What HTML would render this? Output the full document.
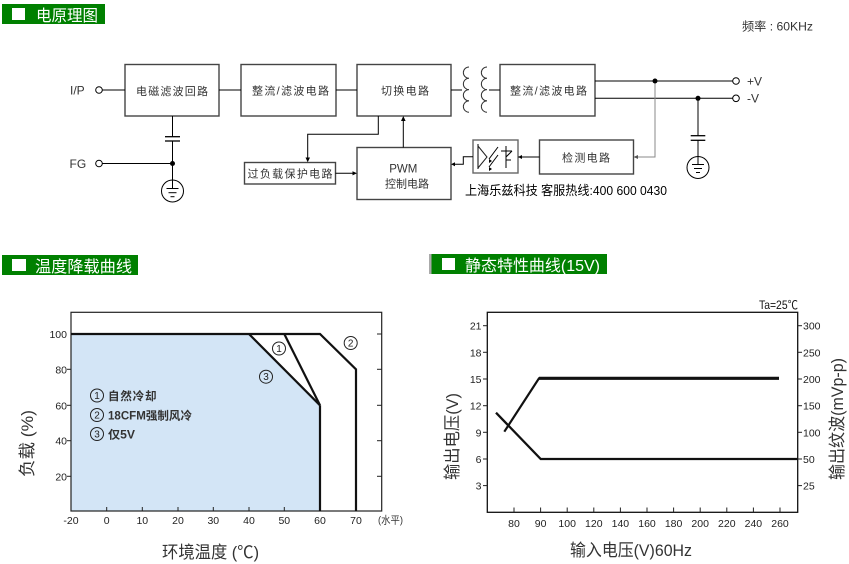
<!DOCTYPE html>
<html><head><meta charset="utf-8"><style>
html,body{margin:0;padding:0;background:#fff;}
svg{display:block;}
text{font-family:"Liberation Sans","Noto Sans CJK SC",sans-serif;}
.cn{font-family:"Liberation Sans","Noto Sans CJK SC",sans-serif;fill:#333;}
.tk{font-size:10.5px;fill:#222;}
</style></head><body>
<svg width="849" height="564" viewBox="0 0 849 564" xmlns="http://www.w3.org/2000/svg">
<!-- Header 1 -->
<rect x="2" y="4" width="103" height="20" fill="#008000"/>
<rect x="12" y="8" width="13" height="12" fill="#fff"/>
<text x="36" y="21" font-size="16" fill="#fff" textLength="62" lengthAdjust="spacingAndGlyphs">电原理图</text>

<!-- Block diagram -->
<g stroke="#000" stroke-width="1" fill="none">
  <!-- boxes -->
  <rect x="125" y="64.5" width="94" height="51.5" stroke="#444" stroke-width="1.4"/>
  <rect x="241" y="64.5" width="95" height="51.5" stroke="#444" stroke-width="1.4"/>
  <rect x="357" y="64.5" width="94" height="51.5" stroke="#444" stroke-width="1.4"/>
  <rect x="500" y="64.5" width="95" height="51.5" stroke="#444" stroke-width="1.4"/>
  <rect x="244.5" y="162.5" width="91" height="21.5" stroke="#444" stroke-width="1.4"/>
  <rect x="357" y="147.5" width="94" height="52" stroke="#444" stroke-width="1.4"/>
  <rect x="539.5" y="140" width="94" height="34" stroke="#444" stroke-width="1.4"/>
  <rect x="473" y="140" width="45" height="33" stroke="#666" stroke-width="1.4"/>
  <!-- I/P and FG -->
  <circle cx="99" cy="90" r="3.3"/>
  <line x1="102.3" y1="90" x2="125" y2="90"/>
  <circle cx="99" cy="163.5" r="3.3"/>
  <line x1="102.3" y1="163.5" x2="172.5" y2="163.5"/>
  <line x1="172.5" y1="116" x2="172.5" y2="136.7"/>
  <line x1="165" y1="136.7" x2="180" y2="136.7" stroke-width="1.3"/>
  <line x1="165" y1="141" x2="180" y2="141" stroke-width="1.3"/>
  <line x1="172.5" y1="141" x2="172.5" y2="188.5"/>
  <circle cx="172.5" cy="191" r="11"/>
  <line x1="166.5" y1="188.5" x2="178.5" y2="188.5"/>
  <line x1="168.5" y1="192.7" x2="176.5" y2="192.7"/>
  <line x1="170.5" y1="196.7" x2="174.5" y2="196.7"/>
  <!-- main chain -->
  <line x1="219" y1="90" x2="241" y2="90"/>
  <line x1="336" y1="90" x2="357" y2="90"/>
  <line x1="451" y1="90" x2="462" y2="90"/>
  <line x1="489" y1="90" x2="500" y2="90"/>
  <!-- transformer coils -->
  <path d="M469 67 A5.6 5.6 0 1 0 469 78.3 M469 78.3 A5.6 5.6 0 1 0 469 89.6 M469 89.6 A5.6 5.6 0 1 0 469 100.9 M469 100.9 A5.6 5.6 0 1 0 469 112.2" stroke="#333"/>
  <path d="M487 67 A5.6 5.6 0 1 0 487 78.3 M487 78.3 A5.6 5.6 0 1 0 487 89.6 M487 89.6 A5.6 5.6 0 1 0 487 100.9 M487 100.9 A5.6 5.6 0 1 0 487 112.2" stroke="#333"/>
  <!-- outputs -->
  <line x1="595" y1="81" x2="732.7" y2="81"/>
  <line x1="595" y1="98.3" x2="732.7" y2="98.3"/>
  <circle cx="736" cy="81" r="3.3"/>
  <circle cx="736" cy="98.3" r="3.3"/>
  <line x1="698" y1="98.3" x2="698" y2="135.7"/>
  <line x1="690.7" y1="135.7" x2="705.3" y2="135.7" stroke-width="1.3"/>
  <line x1="690.7" y1="140.3" x2="705.3" y2="140.3" stroke-width="1.3"/>
  <line x1="698" y1="140.3" x2="698" y2="164"/>
  <circle cx="698" cy="167.5" r="11"/>
  <line x1="692" y1="164.5" x2="704" y2="164.5"/>
  <line x1="694" y1="168.5" x2="702" y2="168.5"/>
  <line x1="696" y1="172.5" x2="700" y2="172.5"/>
  <!-- feedback gray -->
  <polyline points="655,81 655,157 636,157" stroke="#888"/>
  <!-- detect to opto -->
  <line x1="518" y1="157" x2="539.5" y2="157"/>
  <!-- opto to PWM -->
  <polyline points="473,156.7 463.3,156.7 463.3,164.3 454,164.3"/>
  <!-- PWM up to switch -->
  <line x1="403.3" y1="147.5" x2="403.3" y2="120"/>
  <!-- switch down to overload -->
  <polyline points="378.3,116 378.3,134.3 307.7,134.3 307.7,158"/>
  <!-- overload to PWM -->
  <line x1="335.5" y1="173.3" x2="353" y2="173.3"/>
  <!-- opto internals -->
  <line x1="478" y1="144" x2="478" y2="169"/>
  <polyline points="478,146 487,157 478,168" stroke="#222"/>
  <line x1="498" y1="147" x2="489" y2="159"/>
  <line x1="498" y1="155" x2="489" y2="167"/>
  <line x1="506" y1="146" x2="506" y2="168"/>
  <line x1="501" y1="151" x2="512" y2="151"/>
  <line x1="506" y1="157" x2="512" y2="151"/>
  <line x1="506" y1="160" x2="511" y2="160"/>
</g>
<g fill="#000">
  <circle cx="172.5" cy="163.5" r="2.5"/>
  <circle cx="655" cy="81" r="2.5"/>
  <circle cx="698" cy="98.3" r="2.5"/>
  <polygon points="633.5,157 638,155 638,159" fill="#555"/>
  <polygon points="518,157 522,155 522,159"/>
  <polygon points="451,164.3 455,162.3 455,166.3"/>
  <polygon points="403.3,116 401,121 405.6,121"/>
  <polygon points="307.7,162.3 305.5,157.5 310,157.5"/>
  <polygon points="357,173.3 352.5,171.2 352.5,175.4"/>
  <polygon points="489,159 489,163 492,161"/>
  <polygon points="489,167 489,171 492,169"/>
</g>
<!-- block labels -->
<g class="cn" font-size="11">
  <text x="136" y="95" textLength="72" lengthAdjust="spacing">电磁滤波回路</text>
  <text x="252" y="94.5" textLength="77" lengthAdjust="spacing">整流/滤波电路</text>
  <text x="381" y="94.5" textLength="48" lengthAdjust="spacing">切换电路</text>
  <text x="510" y="94.5" textLength="77" lengthAdjust="spacing">整流/滤波电路</text>
  <text x="247.5" y="177.5" textLength="85" lengthAdjust="spacing">过负载保护电路</text>
  <text x="562" y="161.5" textLength="48" lengthAdjust="spacing">检测电路</text>
  <text x="385" y="187.5" textLength="44" lengthAdjust="spacing">控制电路</text>
</g>
<text x="403.3" y="172.5" font-size="11.5" fill="#333" text-anchor="middle">PWM</text>
<g font-size="12" fill="#333">
  <text x="70" y="94.5">I/P</text>
  <text x="69.5" y="168">FG</text>
  <text x="747" y="85.5">+V</text>
  <text x="747" y="102.5">-V</text>
  <text x="742" y="30.5" textLength="71" lengthAdjust="spacingAndGlyphs">频率 : 60KHz</text>
</g>
<text x="465" y="195" font-size="13" fill="#000" textLength="202" lengthAdjust="spacingAndGlyphs">上海乐兹科技 客服热线:400 600 0430</text>

<!-- Header 2 -->
<rect x="2" y="255" width="136" height="20" fill="#008000"/>
<rect x="12" y="259" width="14" height="12" fill="#fff"/>
<text x="35" y="272" font-size="16" fill="#fff" textLength="97" lengthAdjust="spacingAndGlyphs">温度降载曲线</text>

<!-- Header 3 -->
<rect x="429" y="254" width="178" height="20" fill="#008000"/>
<rect x="429" y="254" width="2.5" height="20" fill="#aaa"/>
<rect x="442" y="258" width="13" height="12" fill="#fff"/>
<text x="465" y="271" font-size="16" fill="#fff" textLength="135" lengthAdjust="spacingAndGlyphs">静态特性曲线(15V)</text>

<!-- Left chart -->
<polygon points="71,334 249,334 320,405.3 320,511 71,511" fill="#d3e5f6"/>
<rect x="71" y="312.3" width="310.7" height="198.7" fill="none" stroke="#222" stroke-width="1.2"/>
<g stroke="#111" stroke-width="2.2" fill="none" stroke-linejoin="miter">
  <polyline points="71,334 320,334 356,369.3 356,511"/>
  <line x1="249" y1="334" x2="320" y2="405.3"/>
  <line x1="284.3" y1="334" x2="320" y2="405.3"/>
  <line x1="320" y1="405.3" x2="320" y2="511"/>
</g>
<g stroke="#222" stroke-width="1">
  <line x1="106.7" y1="507" x2="106.7" y2="511"/>
  <line x1="142.3" y1="507" x2="142.3" y2="511"/>
  <line x1="178" y1="507" x2="178" y2="511"/>
  <line x1="213.3" y1="507" x2="213.3" y2="511"/>
  <line x1="249" y1="507" x2="249" y2="511"/>
  <line x1="284.3" y1="507" x2="284.3" y2="511"/>
  <line x1="377" y1="334" x2="381.7" y2="334"/>
  <line x1="377" y1="369.3" x2="381.7" y2="369.3"/>
  <line x1="377" y1="405.3" x2="381.7" y2="405.3"/>
  <line x1="377" y1="440.7" x2="381.7" y2="440.7"/>
  <line x1="377" y1="476.3" x2="381.7" y2="476.3"/>
  <line x1="67" y1="369.3" x2="71" y2="369.3"/>
  <line x1="67" y1="405.3" x2="71" y2="405.3"/>
  <line x1="67" y1="440.7" x2="71" y2="440.7"/>
  <line x1="67" y1="476.3" x2="71" y2="476.3"/>
</g>
<g class="tk" text-anchor="end">
  <text x="67" y="338">100</text>
  <text x="67" y="373.3">80</text>
  <text x="67" y="409.3">60</text>
  <text x="67" y="444.7">40</text>
  <text x="67" y="480.3">20</text>
</g>
<g class="tk" text-anchor="middle">
  <text x="71" y="524">-20</text>
  <text x="106.7" y="524">0</text>
  <text x="142.3" y="524">10</text>
  <text x="178" y="524">20</text>
  <text x="213.3" y="524">30</text>
  <text x="249" y="524">40</text>
  <text x="284.3" y="524">50</text>
  <text x="320" y="524">60</text>
  <text x="356" y="524">70</text>
</g>
<text x="378" y="523.5" font-size="10.5" fill="#333" textLength="25" lengthAdjust="spacingAndGlyphs">(水平)</text>
<!-- circled labels in chart -->
<g fill="none" stroke="#222" stroke-width="1">
  <circle cx="279" cy="348.5" r="6.5"/>
  <circle cx="350.7" cy="343" r="6.5"/>
  <circle cx="266" cy="376.7" r="6.5"/>
  <circle cx="97" cy="395.5" r="6.5"/>
  <circle cx="97" cy="415" r="6.5"/>
  <circle cx="97" cy="434" r="6.5"/>
</g>
<g font-size="10" fill="#222" text-anchor="middle">
  <text x="279" y="352">1</text>
  <text x="350.7" y="346.5">2</text>
  <text x="266" y="380.2">3</text>
  <text x="97" y="399">1</text>
  <text x="97" y="418.5">2</text>
  <text x="97" y="437.5">3</text>
</g>
<g font-size="11.5" fill="#333" font-weight="bold">
  <text x="108" y="400" textLength="48.5" lengthAdjust="spacing">自然冷却</text>
  <text x="108" y="419.5" textLength="84" lengthAdjust="spacingAndGlyphs">18CFM强制风冷</text>
  <text x="108" y="438.5" textLength="27" lengthAdjust="spacingAndGlyphs">仅5V</text>
</g>
<text transform="translate(33,443.5) rotate(-90)" font-size="17" fill="#333" text-anchor="middle" textLength="67" lengthAdjust="spacingAndGlyphs">负载 (%)</text>
<text x="162" y="558" font-size="17" fill="#333" textLength="97" lengthAdjust="spacingAndGlyphs">环境温度 (℃)</text>

<!-- Right chart -->
<rect x="487.3" y="312.3" width="310.4" height="200" fill="none" stroke="#111" stroke-width="1.3"/>
<g stroke="#222" stroke-width="1">
  <line x1="483" y1="325.7" x2="487.3" y2="325.7"/>
  <line x1="483" y1="352.3" x2="487.3" y2="352.3"/>
  <line x1="483" y1="379" x2="487.3" y2="379"/>
  <line x1="483" y1="405.7" x2="487.3" y2="405.7"/>
  <line x1="483" y1="432.3" x2="487.3" y2="432.3"/>
  <line x1="483" y1="459" x2="487.3" y2="459"/>
  <line x1="483" y1="485.6" x2="487.3" y2="485.6"/>
  <line x1="797.7" y1="325.7" x2="802" y2="325.7"/>
  <line x1="797.7" y1="352.3" x2="802" y2="352.3"/>
  <line x1="797.7" y1="379" x2="802" y2="379"/>
  <line x1="797.7" y1="405.7" x2="802" y2="405.7"/>
  <line x1="797.7" y1="432.3" x2="802" y2="432.3"/>
  <line x1="797.7" y1="459" x2="802" y2="459"/>
  <line x1="797.7" y1="485.6" x2="802" y2="485.6"/>
  <line x1="514" y1="507.5" x2="514" y2="512.3"/>
  <line x1="540.6" y1="507.5" x2="540.6" y2="512.3"/>
  <line x1="567.2" y1="507.5" x2="567.2" y2="512.3"/>
  <line x1="593.8" y1="507.5" x2="593.8" y2="512.3"/>
  <line x1="620.4" y1="507.5" x2="620.4" y2="512.3"/>
  <line x1="647" y1="507.5" x2="647" y2="512.3"/>
  <line x1="673.6" y1="507.5" x2="673.6" y2="512.3"/>
  <line x1="700.2" y1="507.5" x2="700.2" y2="512.3"/>
  <line x1="726.8" y1="507.5" x2="726.8" y2="512.3"/>
  <line x1="753.4" y1="507.5" x2="753.4" y2="512.3"/>
  <line x1="780" y1="507.5" x2="780" y2="512.3"/>
</g>
<g stroke="#111" fill="none">
  <polyline points="504.3,431.7 539,378.3 779,378.3" stroke-width="2.2"/>
  <line x1="539" y1="378.3" x2="779" y2="378.3" stroke-width="3.2"/>
  <polyline points="496,412.7 540.7,459 797.7,459" stroke-width="2.3"/>
</g>
<g class="tk" text-anchor="end">
  <text x="481.5" y="329.7">21</text>
  <text x="481.5" y="356.3">18</text>
  <text x="481.5" y="383">15</text>
  <text x="481.5" y="409.7">12</text>
  <text x="481.5" y="436.3">9</text>
  <text x="481.5" y="463">6</text>
  <text x="481.5" y="489.6">3</text>
</g>
<g class="tk">
  <text x="803" y="329.7">300</text>
  <text x="803" y="356.3">250</text>
  <text x="803" y="383">200</text>
  <text x="803" y="409.7">150</text>
  <text x="803" y="436.3">100</text>
  <text x="803" y="463">50</text>
  <text x="803" y="489.6">25</text>
</g>
<g class="tk" text-anchor="middle">
  <text x="514" y="527">80</text>
  <text x="540.6" y="527">90</text>
  <text x="567.2" y="527">100</text>
  <text x="593.8" y="527">120</text>
  <text x="620.4" y="527">140</text>
  <text x="647" y="527">160</text>
  <text x="673.6" y="527">180</text>
  <text x="700.2" y="527">200</text>
  <text x="726.8" y="527">220</text>
  <text x="753.4" y="527">240</text>
  <text x="780" y="527">260</text>
</g>
<text x="759" y="309" font-size="12" fill="#111" textLength="39" lengthAdjust="spacingAndGlyphs">Ta=25℃</text>
<text transform="translate(458,436.5) rotate(-90)" font-size="17" fill="#333" text-anchor="middle" textLength="87" lengthAdjust="spacingAndGlyphs">输出电压(V)</text>
<text transform="translate(843,419) rotate(-90)" font-size="17" fill="#333" text-anchor="middle" textLength="122" lengthAdjust="spacingAndGlyphs">输出纹波(mVp-p)</text>
<text x="570" y="556" font-size="17" fill="#333" textLength="122" lengthAdjust="spacingAndGlyphs">输入电压(V)60Hz</text>
</svg>
</body></html>
